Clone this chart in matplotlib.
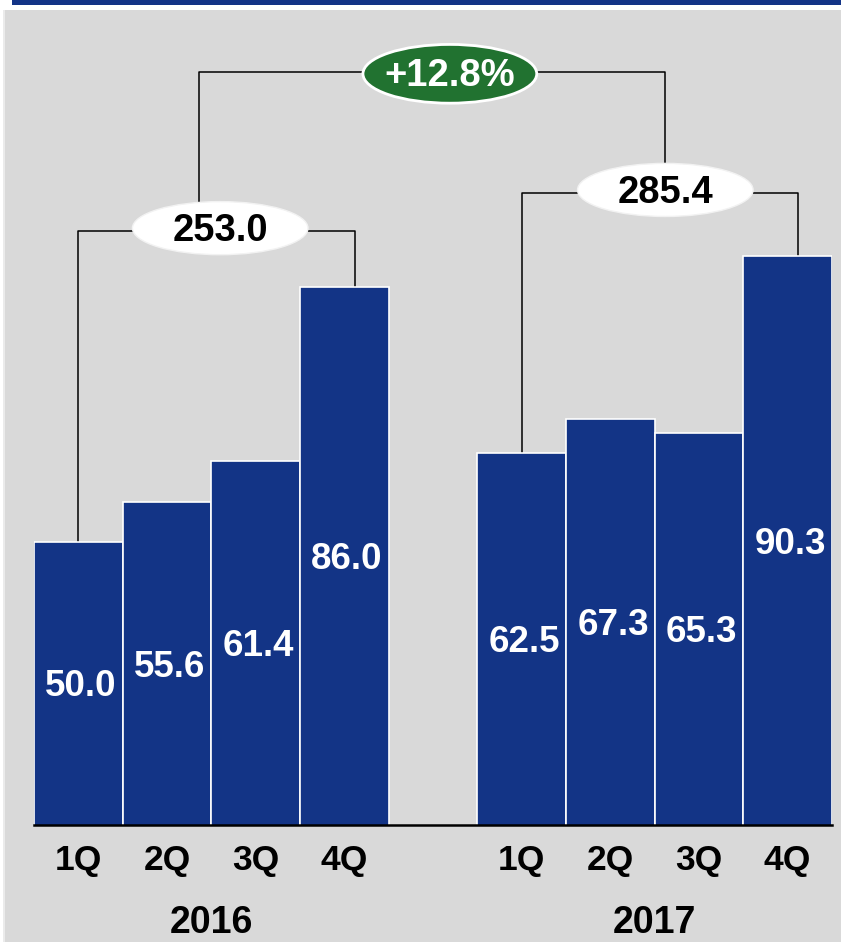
import matplotlib.pyplot as plt
from matplotlib.patches import Ellipse, Rectangle

# data
quarters = ['1Q', '2Q', '3Q', '4Q']
years = ['2016', '2017']
values_2016 = [50.0, 55.6, 61.4, 86.0]
values_2017 = [62.5, 67.3, 65.3, 90.3]
totals = [253.0, 285.4]
growth = '+12.8%'

blue = '#133486'
green = '#217230'
gray = '#d9d9d9'

plt.rcParams['font.family'] = ['Liberation Sans', 'DejaVu Sans']
plt.rcParams['font.weight'] = 'bold'

fig = plt.figure(figsize=(8.41, 9.42), dpi=100)
fig.patch.set_facecolor(gray)

# frame decoration: white strips and blue band on top
fig.patches.append(Rectangle((0, 1 - 10 / 942), 1, 10 / 942, transform=fig.transFigure,
                             facecolor='white', edgecolor='none', zorder=0))
fig.patches.append(Rectangle((0, 0), 3 / 841, 1, transform=fig.transFigure,
                             facecolor='white', edgecolor='none', zorder=0))
fig.patches.append(Rectangle((3 / 841, 0), 2 / 841, 1 - 10 / 942, transform=fig.transFigure,
                             facecolor='#ebebeb', edgecolor='none', zorder=0))
fig.patches.append(Rectangle((12 / 841, 1 - 5 / 942), 1, 5 / 942, transform=fig.transFigure,
                             facecolor=blue, edgecolor='none', zorder=1))

ax = fig.add_axes([34 / 841, 117 / 942, 798 / 841, 825 / 942])
ax.set_facecolor('none')
ax.set_xlim(-0.5, 8.5)
ax.set_ylim(10, 10 + 825 / 7.08)
ax.axis('off')

x16 = [0, 1, 2, 3]
x17 = [5, 6, 7, 8]
groups = [(x16, values_2016), (x17, values_2017)]

for xs, vals in groups:
    ax.bar(xs, vals, width=1.0, color=blue, edgecolor='white', linewidth=1.2, zorder=2)
    for x, v in zip(xs, vals):
        ax.text(x + 0.03, (10 + v) / 2 - 0.5, f'{v:.1f}', color='white', fontsize=26.5,
                ha='center', va='center', zorder=3)
    for x, q in zip(xs, quarters):
        ax.text(x, 5.0, q, color='black', fontsize=25.5, ha='center', va='center')

ax.plot([-0.5, 8.5], [10, 10], color='black', lw=1.8, zorder=4, clip_on=False)

for xs, yr in zip([x16, x17], years):
    ax.text(sum(xs) / len(xs), -3.8, yr, color='black', fontsize=27,
            ha='center', va='center')

# brackets with totals
lw = 1.1
bracket_y = [93.9, 99.3]
oval_x = [1.6, 6.62]
for (xs, vals), by, ox, tot in zip(groups, bracket_y, oval_x, totals):
    xl = xs[0]
    xr = xs[-1] + 0.12
    ax.plot([xl, xl, xr, xr], [vals[0], by, by, vals[-1]], color='black', lw=lw,
            zorder=1, clip_on=False)
    ax.add_patch(Ellipse((ox, by + 0.4), 1.98, 7.5, facecolor='white',
                         edgecolor='#f2f2f2', lw=1, zorder=5))
    ax.text(ox, by, f'{tot:.1f}', color='black', fontsize=27.5,
            ha='center', va='center', zorder=6)

# growth bracket
top_y = 116.4
gl, gr = 1.36, 6.62
ax.plot([gl, gl, gr, gr], [bracket_y[0] + 3.7, top_y, top_y, bracket_y[1] + 3.7],
        color='black', lw=lw, zorder=1, clip_on=False)
ax.add_patch(Ellipse((4.19, 116.1), 1.96, 8.3, facecolor=green, edgecolor='white',
                     lw=2, zorder=5, clip_on=False))
ax.text(4.19, 115.8, growth, color='white', fontsize=27.5, ha='center', va='center',
        zorder=6)

fig.savefig('out.png', dpi=100, facecolor=fig.get_facecolor())
